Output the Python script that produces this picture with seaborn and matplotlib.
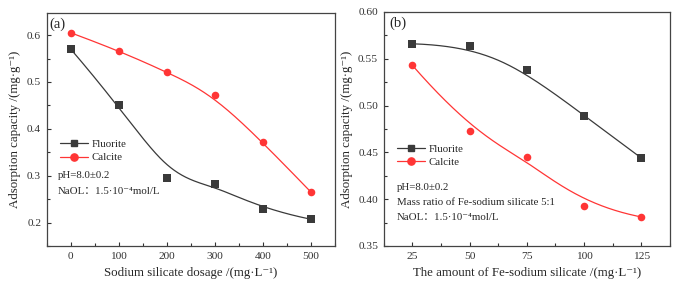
import numpy as np
import matplotlib
matplotlib.use('Agg')
import matplotlib.pyplot as plt
import seaborn as sns
from matplotlib.lines import Line2D
from matplotlib.ticker import AutoMinorLocator, FormatStrFormatter

# panel (a): sodium silicate dosage
dose_a = [0, 100, 200, 300, 400, 500]
fluorite_a = [0.570, 0.451, 0.295, 0.282, 0.228, 0.207]
calcite_a = [0.605, 0.567, 0.521, 0.472, 0.371, 0.265]

# panel (b): Fe-sodium silicate amount
dose_b = [25, 50, 75, 100, 125]
fluorite_b = [0.566, 0.564, 0.538, 0.489, 0.444]
calcite_b = [0.543, 0.473, 0.445, 0.393, 0.381]

sns.set_style('ticks')
fam = ['Liberation Serif', 'Noto Sans CJK SC', 'DejaVu Sans']
plt.rcParams['font.family'] = fam
plt.rcParams['xtick.direction'] = 'in'
plt.rcParams['ytick.direction'] = 'in'
plt.rcParams['axes.edgecolor'] = '#444444'
plt.rcParams['axes.linewidth'] = 0.9

c_f = '#3a3a3a'
c_c = '#ff3535'
fs_lab = 9.3
fs_tick = 8.2
fs_txt = 7.8


def bspline(px, py, k=3, num=300):
    # clamped cubic B-spline using the data points as control points (Origin style)
    px = np.asarray(px, float)
    py = np.asarray(py, float)
    n = len(px)
    knots = np.concatenate([np.zeros(k), np.linspace(0, 1, n - k + 1), np.ones(k)])
    t = np.linspace(0, 1, num)
    t[-1] -= 1e-9
    N = np.zeros((num, len(knots) - 1))
    for i in range(len(knots) - 1):
        N[:, i] = (knots[i] <= t) & (t < knots[i + 1])
    for d in range(1, k + 1):
        M = np.zeros((num, len(knots) - 1 - d))
        for i in range(len(knots) - 1 - d):
            a = knots[i + d] - knots[i]
            b = knots[i + d + 1] - knots[i + 1]
            if a > 0:
                M[:, i] += (t - knots[i]) / a * N[:, i]
            if b > 0:
                M[:, i] += (knots[i + d + 1] - t) / b * N[:, i + 1]
        N = M
    return N @ px, N @ py


def draw(ax, x, yf, yc):
    for y, col, mk, s in [(yf, c_f, 's', 26), (yc, c_c, 'o', 30)]:
        cx, cy = bspline(x, y)
        sns.lineplot(x=cx, y=cy, sort=False, estimator=None, ax=ax, color=col, lw=0.9)
        sns.scatterplot(x=x, y=y, ax=ax, color=col, marker=mk, s=s, linewidth=0, zorder=3)
    handles = [Line2D([], [], color=c_f, marker='s', ms=4.6, lw=0.9),
               Line2D([], [], color=c_c, marker='o', ms=5.2, lw=0.9)]
    return handles


fig = plt.figure(figsize=(6.78, 2.85), dpi=100)
ax1 = fig.add_axes([0.069, 0.137, 0.425, 0.817])
ax2 = fig.add_axes([0.566, 0.137, 0.422, 0.821])

h = draw(ax1, dose_a, fluorite_a, calcite_a)
ax1.set_xlim(-50, 550)
ax1.set_ylim(0.15, 0.647)
ax1.set_xticks(dose_a)
ax1.set_yticks([0.2, 0.3, 0.4, 0.5, 0.6])
ax1.yaxis.set_major_formatter(FormatStrFormatter('%.1f'))
ax1.set_xlabel('Sodium silicate dosage /(mg·L⁻¹)', fontsize=fs_lab, labelpad=5)
ax1.set_ylabel('Adsorption capacity /(mg·g⁻¹)', fontsize=fs_lab, labelpad=4)
ax1.text(0.008, 0.95, '(a)', transform=ax1.transAxes, fontsize=10.5, va='center')
ax1.legend(h, ['Fluorite', 'Calcite'], loc='upper left', bbox_to_anchor=(0.02, 0.49),
           frameon=False, fontsize=fs_txt, handlelength=2.6, handletextpad=0.3,
           labelspacing=0.35, borderpad=0.2)
ax1.text(0.038, 0.303, 'pH=8.0±0.2', transform=ax1.transAxes, fontsize=fs_txt, va='center')
ax1.text(0.038, 0.235, 'NaOL：1.5·10⁻⁴mol/L', transform=ax1.transAxes, fontsize=fs_txt,
         va='center')

h = draw(ax2, dose_b, fluorite_b, calcite_b)
ax2.set_xlim(12.5, 137.5)
ax2.set_ylim(0.35, 0.60)
ax2.set_xticks(dose_b)
ax2.set_yticks([0.35, 0.40, 0.45, 0.50, 0.55, 0.60])
ax2.yaxis.set_major_formatter(FormatStrFormatter('%.2f'))
ax2.set_xlabel('The amount of Fe-sodium silicate /(mg·L⁻¹)', fontsize=fs_lab, labelpad=5)
ax2.set_ylabel('Adsorption capacity /(mg·g⁻¹)', fontsize=fs_lab, labelpad=4)
ax2.text(0.02, 0.95, '(b)', transform=ax2.transAxes, fontsize=10.5, va='center')
ax2.legend(h, ['Fluorite', 'Calcite'], loc='upper left', bbox_to_anchor=(0.02, 0.468),
           frameon=False, fontsize=fs_txt, handlelength=2.6, handletextpad=0.3,
           labelspacing=0.35, borderpad=0.2)
ax2.text(0.045, 0.25, 'pH=8.0±0.2', transform=ax2.transAxes, fontsize=fs_txt, va='center')
ax2.text(0.045, 0.185, 'Mass ratio of Fe-sodium silicate 5:1', transform=ax2.transAxes,
         fontsize=fs_txt, va='center')
ax2.text(0.045, 0.12, 'NaOL：1.5·10⁻⁴mol/L', transform=ax2.transAxes, fontsize=fs_txt,
         va='center')

for ax in (ax1, ax2):
    ax.xaxis.set_minor_locator(AutoMinorLocator(2))
    ax.yaxis.set_minor_locator(AutoMinorLocator(2))
    ax.tick_params(which='major', length=3, width=0.8, labelsize=fs_tick, colors='#333333',
                   top=False, right=False, pad=4)
    ax.tick_params(which='minor', length=2, width=0.8, colors='#333333',
                   top=False, right=False)
    for s in ax.spines.values():
        s.set_visible(True)

fig.savefig('out.png', dpi=100)
